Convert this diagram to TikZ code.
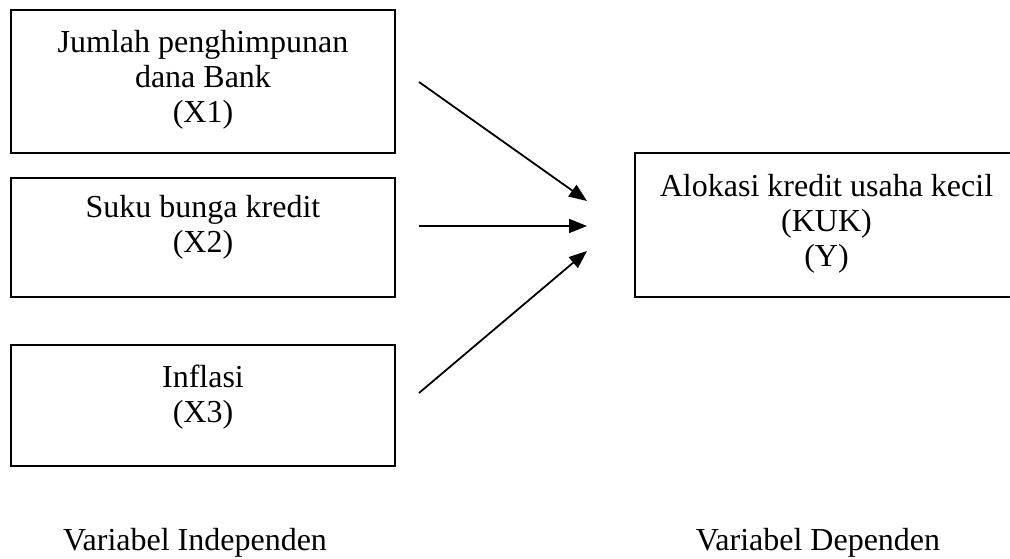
\documentclass[tikz,border=0pt]{standalone}
\usepackage{fontspec}
\setmainfont{Liberation Serif}
\usetikzlibrary{arrows.meta}
\begin{document}
\begin{tikzpicture}[x=1pt,y=-1pt,
  box/.style={draw=black, line width=1.8pt, rectangle, inner sep=0pt},
  lbl/.style={font=\fontsize{32}{35}\selectfont, align=center, inner sep=0pt},
  arr/.style={line width=1.8pt, -{Triangle[length=18pt,width=14pt]}}]
\useasboundingbox (0,0) rectangle (1010,559);
\fill[white] (0,0) rectangle (1010,559);
% boxes
\node[box, minimum width=384pt, minimum height=143pt] (x1) at (203,81.5) {};
\node[box, minimum width=384pt, minimum height=119pt] (x2) at (203,237.5) {};
\node[box, minimum width=384pt, minimum height=121pt] (x3) at (203,405.5) {};
\node[box, minimum width=383pt, minimum height=144pt] (y) at (826.5,225) {};
% texts (base = baseline of last line)
\node[lbl, anchor=base] (x1t) at (203,123) {Jumlah penghimpunan\\dana Bank\\(X1)};
\node[lbl, anchor=base] (x2t) at (203,252) {Suku bunga kredit\\(X2)};
\node[lbl, anchor=base] (x3t) at (203,422) {Inflasi\\(X3)};
\node[lbl, anchor=base] (yt) at (826.5,266) {Alokasi kredit usaha kecil\\(KUK)\\(Y)};
\node[lbl, anchor=base] (vi) at (195,550) {Variabel Independen};
\node[lbl, anchor=base] (vd) at (818,550) {Variabel Dependen};
% arrows
\coordinate (a1s) at (419,82);
\coordinate (a1e) at (587,201);
\coordinate (a2s) at (419,226);
\coordinate (a2e) at (587,226);
\coordinate (a3s) at (419,393);
\coordinate (a3e) at (587,251);
\draw[arr] (a1s) -- (a1e);
\draw[arr] (a2s) -- (a2e);
\draw[arr] (a3s) -- (a3e);
\end{tikzpicture}
\end{document}
